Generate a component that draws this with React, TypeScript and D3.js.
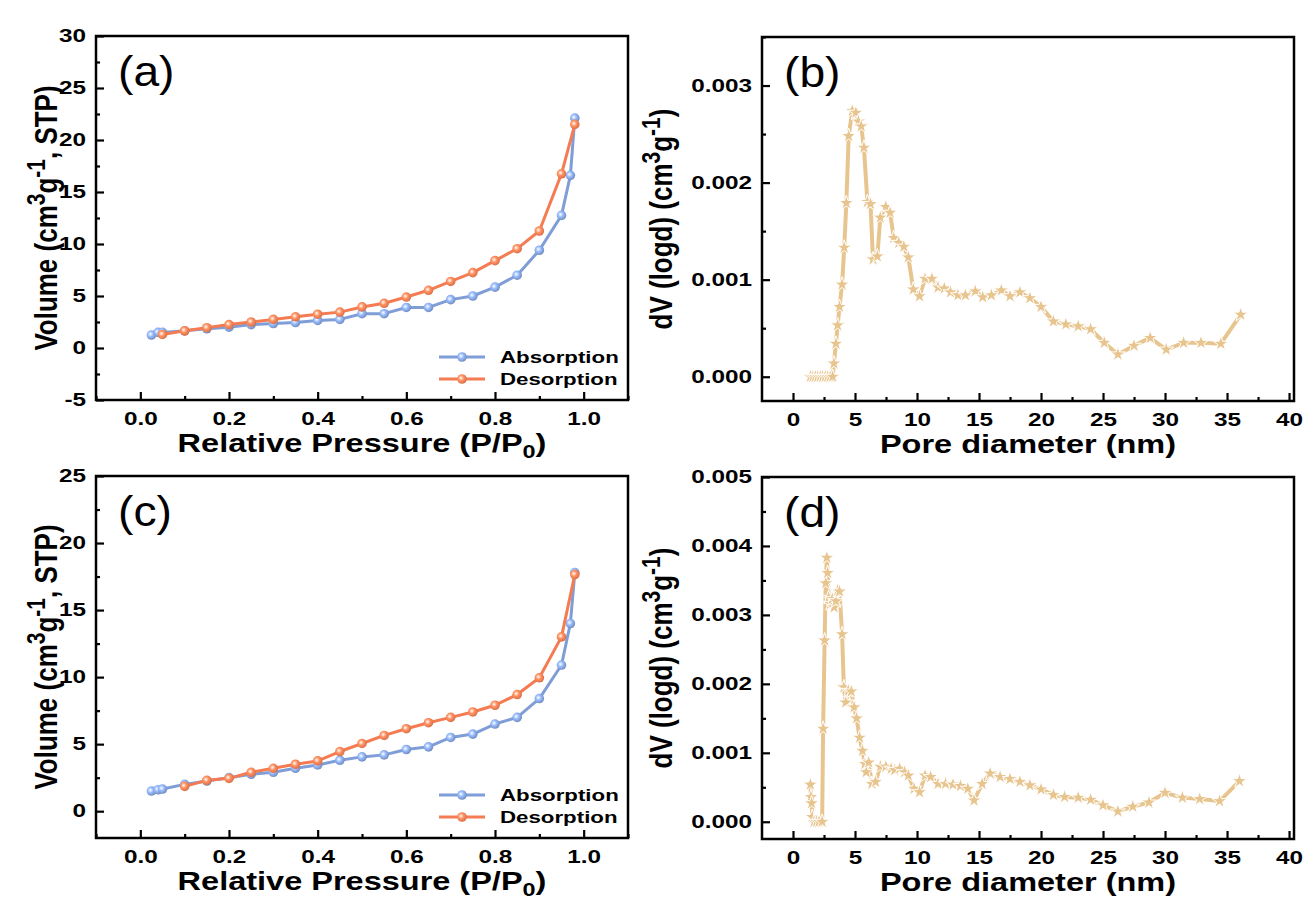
import React, { useEffect, useRef } from 'react';
import * as d3 from 'd3';

// ---- data ----
// (a) isotherm, sample 1
const pressureAdsA = [0.025, 0.04, 0.05, 0.1, 0.15, 0.2, 0.25, 0.3, 0.35, 0.4, 0.45, 0.5, 0.55, 0.6, 0.65, 0.7, 0.75, 0.8, 0.85, 0.9, 0.95, 0.97, 0.98];
const volumeAdsA = [1.25, 1.5, 1.5, 1.65, 1.85, 2.0, 2.25, 2.35, 2.45, 2.65, 2.75, 3.3, 3.3, 3.9, 3.9, 4.65, 5.0, 5.85, 7.0, 9.4, 12.75, 16.6, 22.1];
const pressureDesA = [0.05, 0.1, 0.15, 0.2, 0.25, 0.3, 0.35, 0.4, 0.45, 0.5, 0.55, 0.6, 0.65, 0.7, 0.75, 0.8, 0.85, 0.9, 0.95, 0.98];
const volumeDesA = [1.3, 1.65, 1.95, 2.25, 2.5, 2.75, 3.0, 3.25, 3.45, 3.95, 4.3, 4.9, 5.55, 6.4, 7.25, 8.4, 9.55, 11.25, 16.75, 21.5];

// (c) isotherm, sample 2
const pressureAdsC = [0.025, 0.04, 0.05, 0.1, 0.15, 0.2, 0.25, 0.3, 0.35, 0.4, 0.45, 0.5, 0.55, 0.6, 0.65, 0.7, 0.75, 0.8, 0.85, 0.9, 0.95, 0.97, 0.98];
const volumeAdsC = [1.5, 1.6, 1.65, 2.0, 2.25, 2.5, 2.75, 2.9, 3.2, 3.45, 3.8, 4.05, 4.2, 4.6, 4.8, 5.5, 5.75, 6.5, 7.0, 8.4, 10.9, 14.0, 17.8];
const pressureDesC = [0.1, 0.15, 0.2, 0.25, 0.3, 0.35, 0.4, 0.45, 0.5, 0.55, 0.6, 0.65, 0.7, 0.75, 0.8, 0.85, 0.9, 0.95, 0.98];
const volumeDesC = [1.85, 2.3, 2.45, 2.9, 3.2, 3.5, 3.75, 4.45, 5.05, 5.65, 6.15, 6.6, 7.0, 7.4, 7.9, 8.7, 9.95, 13.0, 17.65];

// (b) pore size distribution, sample 1
const poreB = [1.4, 1.6, 1.8, 2.0, 2.2, 2.4, 2.6, 2.8, 3.0, 3.2, 3.3, 3.46, 3.6, 3.75, 3.96, 4.13, 4.3, 4.49, 4.78, 5.07, 5.28, 5.5, 5.72, 6.0, 6.25, 6.45, 6.8, 7.04, 7.48, 7.83, 8.12, 8.53, 8.94, 9.3, 9.7, 10.2, 10.65, 11.2, 11.7, 12.2, 12.7, 13.3, 13.9, 14.7, 15.3, 16.0, 16.8, 17.5, 18.3, 19.1, 20.0, 21.0, 22.0, 23.0, 24.0, 25.1, 26.2, 27.5, 28.8, 30.1, 31.5, 32.9, 34.5, 36.1];
const dvB = [0, 0, 0, 0, 0, 0, 0, 0, 0, 0, 0.000137, 0.00034, 0.00053, 0.00072, 0.00095, 0.00133, 0.00179, 0.00248, 0.00274, 0.00272, 0.00263, 0.00258, 0.00236, 0.0018, 0.00178, 0.00121, 0.00124, 0.00164, 0.00175, 0.00169, 0.00143, 0.00138, 0.00134, 0.00123, 0.0009, 0.00083, 0.00101, 0.00101, 0.00092, 0.00091, 0.00087, 0.00084, 0.00084, 0.00088, 0.00082, 0.00084, 0.00089, 0.00083, 0.00087, 0.00081, 0.00072, 0.00057, 0.00054, 0.00052, 0.00049, 0.00035, 0.00023, 0.00032, 0.0004, 0.00028, 0.00035, 0.00035, 0.00034, 0.00064];

// (d) pore size distribution, sample 2
const poreD = [1.4, 1.45, 1.5, 1.55, 1.7, 1.9, 2.1, 2.35, 2.43, 2.55, 2.64, 2.73, 2.79, 2.87, 3.02, 3.17, 3.31, 3.46, 3.6, 3.75, 3.96, 4.1, 4.25, 4.46, 4.7, 4.93, 5.13, 5.37, 5.6, 5.8, 5.9, 6.1, 6.36, 6.66, 7.04, 7.48, 7.92, 8.2, 8.6, 9.0, 9.3, 9.77, 10.2, 10.65, 11.1, 11.7, 12.3, 12.9, 13.5, 14.1, 14.6, 15.25, 15.9, 16.7, 17.5, 18.3, 19.1, 20.0, 21.0, 21.9, 23.0, 24.0, 25.0, 26.2, 27.4, 28.7, 30.0, 31.4, 32.8, 34.4, 36.0];
const dvD = [0.00054, 0.00036, 0.00027, 0.00007, 0, 0, 0, 0, 0.00135, 0.00263, 0.00346, 0.00383, 0.00361, 0.00325, 0.00316, 0.00323, 0.00311, 0.0032, 0.00335, 0.00334, 0.00272, 0.00195, 0.00173, 0.0019, 0.00189, 0.00166, 0.0015, 0.00122, 0.00103, 0.00084, 0.00072, 0.00086, 0.00055, 0.00058, 0.0008, 0.0008, 0.00077, 0.00075, 0.00077, 0.00072, 0.00067, 0.00048, 0.00043, 0.00067, 0.00065, 0.00055, 0.00055, 0.00054, 0.00052, 0.00048, 0.00031, 0.00055, 0.0007, 0.00065, 0.00062, 0.00058, 0.00053, 0.00047, 0.00039, 0.00036, 0.00035, 0.00032, 0.00024, 0.00015, 0.00022, 0.00028, 0.00042, 0.00035, 0.00033, 0.0003, 0.00059];

// ticks
const pressureTicks = [0, 0.2, 0.4, 0.6, 0.8, 1.0];
const pressureMinor = [-0.1, 0.1, 0.3, 0.5, 0.7, 0.9, 1.1];
const poreTicks = [0, 5, 10, 15, 20, 25, 30, 35, 40];
const poreMinor = [2.5, 7.5, 12.5, 17.5, 22.5, 27.5, 32.5, 37.5];
const volumeTicksA = [-5, 0, 5, 10, 15, 20, 25, 30];
const volumeMinorA = [-2.5, 2.5, 7.5, 12.5, 17.5, 22.5, 27.5];
const volumeTicksC = [0, 5, 10, 15, 20, 25];
const volumeMinorC = [2.5, 7.5, 12.5, 17.5, 22.5];
const dvTicksB = [0, 0.001, 0.002, 0.003];
const dvMinorB = [0.0005, 0.0015, 0.0025, 0.0035];
const dvTicksD = [0, 0.001, 0.002, 0.003, 0.004, 0.005];
const dvMinorD = [0.0005, 0.0015, 0.0025, 0.0035, 0.0045];

const legendNames = ['Absorption', 'Desorption'];

const FONT = '"Liberation Sans", Arial, Helvetica, sans-serif';
const SX = 1.35; // text in the original is drawn horizontally stretched
const BLUE = '#7f9dd6';
const ORANGE = '#f47b52';
const TAN = '#e8c58f';

const toPoints = (xs, ys) => xs.map((v, i) => [v, ys[i]]);

function drawPanel(svg, p) {
  const { box } = p;
  const x = d3.scaleLinear().domain(p.xDomain).range([box.left, box.right]);
  const y = d3.scaleLinear().domain(p.yDomain).range([box.bottom, box.top]);
  const g = svg.append('g');

  const styleTicks = (a) => {
    a.select('.domain').remove();
    a.selectAll('line').attr('stroke', '#000').attr('stroke-width', 2.2);
  };

  // minor ticks
  g.append('g').attr('transform', 'translate(0,' + box.bottom + ')')
    .call(d3.axisBottom(x).tickValues(p.xMinor).tickSizeInner(-4).tickSizeOuter(0).tickFormat(() => ''))
    .call(styleTicks);
  g.append('g').attr('transform', 'translate(' + box.left + ',0)')
    .call(d3.axisLeft(y).tickValues(p.yMinor).tickSizeInner(-4).tickSizeOuter(0).tickFormat(() => ''))
    .call(styleTicks);

  // major ticks + labels
  g.append('g').attr('transform', 'translate(0,' + box.bottom + ')')
    .call(d3.axisBottom(x).tickValues(p.xTicks).tickSizeInner(-8).tickSizeOuter(0).tickPadding(12).tickFormat(p.xFormat))
    .call(styleTicks)
    .call(a => a.selectAll('text')
      .attr('font-family', FONT).attr('font-size', 18).attr('font-weight', 'bold').attr('fill', '#000')
      .attr('transform', 'scale(' + SX + ',1)'));
  g.append('g').attr('transform', 'translate(' + box.left + ',0)')
    .call(d3.axisLeft(y).tickValues(p.yTicks).tickSizeInner(-8).tickSizeOuter(0).tickPadding(10).tickFormat(p.yFormat))
    .call(styleTicks)
    .call(a => a.selectAll('text')
      .attr('x', -10 / SX)
      .attr('font-family', FONT).attr('font-size', 18).attr('font-weight', 'bold').attr('fill', '#000')
      .attr('transform', 'scale(' + SX + ',1)'));

  // series
  const line = d3.line().x(d => x(d[0])).y(d => y(d[1]));
  p.series.forEach(s => {
    const pts = toPoints(s.xs, s.ys);
    g.append('path').datum(pts)
      .attr('d', line)
      .attr('fill', 'none')
      .attr('stroke', s.color)
      .attr('stroke-width', s.kind === 'star' ? 4 : 3)
      .attr('stroke-linejoin', 'round');
    if (s.kind === 'star') {
      g.selectAll(null).data(pts).enter().append('path')
        .attr('d', d3.symbol(d3.symbolStar, 70))
        .attr('transform', d => 'translate(' + x(d[0]) + ',' + y(d[1]) + ')')
        .attr('fill', s.color)
        .attr('stroke', '#fff')
        .attr('stroke-width', 1);
    } else {
      g.selectAll(null).data(pts).enter().append('circle')
        .attr('cx', d => x(d[0]))
        .attr('cy', d => y(d[1]))
        .attr('r', 4.8)
        .attr('fill', 'url(#' + s.grad + ')');
    }
  });

  // frame
  g.append('rect')
    .attr('x', box.left).attr('y', box.top)
    .attr('width', box.right - box.left).attr('height', box.bottom - box.top)
    .attr('fill', 'none').attr('stroke', '#000').attr('stroke-width', 2.5);

  // legend
  if (p.legend) {
    p.series.forEach((s, i) => {
      const ly = box.bottom - 43 + i * 22;
      g.append('line')
        .attr('x1', box.right - 189).attr('x2', box.right - 143)
        .attr('y1', ly).attr('y2', ly)
        .attr('stroke', s.color).attr('stroke-width', 3);
      g.append('circle')
        .attr('cx', box.right - 166).attr('cy', ly).attr('r', 4.8)
        .attr('fill', 'url(#' + s.grad + ')');
      g.append('text')
        .attr('transform', 'translate(' + (box.right - 128) + ',' + (ly + 6) + ') scale(' + SX + ',1)')
        .attr('font-family', FONT).attr('font-size', 16.5).attr('font-weight', 'bold')
        .text(legendNames[i]);
    });
  }

  // panel label
  g.append('text')
    .attr('transform', 'translate(' + (box.left + 22) + ',' + (box.top + 50) + ') scale(1.1,1)')
    .attr('font-family', FONT).attr('font-size', 42)
    .text(p.label);

  // x title
  const xt = g.append('text')
    .attr('transform', 'translate(' + ((box.left + box.right) / 2) + ',' + (box.bottom + 52) + ') scale(1.3,1)')
    .attr('text-anchor', 'middle')
    .attr('font-family', FONT).attr('font-size', 25).attr('font-weight', 'bold');
  p.xTitle.forEach(part => {
    xt.append('tspan').attr('dy', part.dy || 0).attr('font-size', part.size || null).text(part.t);
  });

  // y title
  const yt = g.append('text')
    .attr('transform', 'translate(' + (box.left - p.yTitleOffset) + ',' + ((box.top + box.bottom) / 2) + ') scale(1.2,1) rotate(-90)')
    .attr('text-anchor', 'middle')
    .attr('font-family', FONT).attr('font-size', 26).attr('font-weight', 'bold');
  p.yTitle.forEach(part => {
    yt.append('tspan').attr('dy', part.dy || 0).attr('font-size', part.size || null).text(part.t);
  });
}

const volumeTitle = [
  { t: 'Volume (cm' }, { t: '3', dy: -10, size: 21 }, { t: 'g', dy: 10 },
  { t: '-1', dy: -10, size: 21 }, { t: ', STP)', dy: 10 }
];
const dvTitle = [
  { t: 'dV (logd) (cm' }, { t: '3', dy: -10, size: 21 }, { t: 'g', dy: 10 },
  { t: '-1', dy: -10, size: 21 }, { t: ')', dy: 10 }
];
const pressureTitle = [
  { t: 'Relative Pressure (P/P' }, { t: '0', dy: 6, size: 18 }, { t: ')', dy: -6 }
];
const poreTitle = [{ t: 'Pore diameter (nm)' }];

export default function App() {
  const ref = useRef(null);

  useEffect(() => {
    const svg = d3.select(ref.current);
    svg.selectAll('*').remove();

    const defs = svg.append('defs');
    [['gBlue', BLUE], ['gOrange', ORANGE]].forEach(([id, c]) => {
      const rg = defs.append('radialGradient').attr('id', id)
        .attr('cx', '40%').attr('cy', '40%').attr('r', '60%');
      rg.append('stop').attr('offset', '0%').attr('stop-color', '#ffffff');
      rg.append('stop').attr('offset', '45%').attr('stop-color', d3.color(c).brighter(0.5).formatHex());
      rg.append('stop').attr('offset', '100%').attr('stop-color', d3.color(c).darker(0.3).formatHex());
    });

    const fmtPlain = d => String(d);
    const fmt1 = d3.format('.1f');
    const fmt3 = d3.format('.3f');

    const isoSeries = (xa, ya, xd, yd) => [
      { xs: xa, ys: ya, color: BLUE, grad: 'gBlue', kind: 'circle' },
      { xs: xd, ys: yd, color: ORANGE, grad: 'gOrange', kind: 'circle' }
    ];

    drawPanel(svg, {
      box: { left: 96, right: 628, top: 36, bottom: 400 },
      xDomain: [-0.1, 1.1], yDomain: [-5, 30],
      xTicks: pressureTicks, xMinor: pressureMinor, xFormat: fmt1,
      yTicks: volumeTicksA, yMinor: volumeMinorA, yFormat: fmtPlain,
      series: isoSeries(pressureAdsA, volumeAdsA, pressureDesA, volumeDesA),
      legend: true, label: '(a)', xTitle: pressureTitle, yTitle: volumeTitle, yTitleOffset: 39
    });
    drawPanel(svg, {
      box: { left: 762, right: 1294, top: 37, bottom: 401 },
      xDomain: [-2.5, 40.4], yDomain: [-0.00025, 0.0035],
      xTicks: poreTicks, xMinor: poreMinor, xFormat: fmtPlain,
      yTicks: dvTicksB, yMinor: dvMinorB, yFormat: fmt3,
      series: [{ xs: poreB, ys: dvB, color: TAN, kind: 'star' }],
      legend: false, label: '(b)', xTitle: poreTitle, yTitle: dvTitle, yTitleOffset: 90
    });
    drawPanel(svg, {
      box: { left: 96, right: 628, top: 476, bottom: 838 },
      xDomain: [-0.1, 1.1], yDomain: [-2, 25],
      xTicks: pressureTicks, xMinor: pressureMinor, xFormat: fmt1,
      yTicks: volumeTicksC, yMinor: volumeMinorC, yFormat: fmtPlain,
      series: isoSeries(pressureAdsC, volumeAdsC, pressureDesC, volumeDesC),
      legend: true, label: '(c)', xTitle: pressureTitle, yTitle: volumeTitle, yTitleOffset: 39
    });
    drawPanel(svg, {
      box: { left: 762, right: 1294, top: 477, bottom: 839 },
      xDomain: [-2.5, 40.4], yDomain: [-0.00025, 0.005],
      xTicks: poreTicks, xMinor: poreMinor, xFormat: fmtPlain,
      yTicks: dvTicksD, yMinor: dvMinorD, yFormat: fmt3,
      series: [{ xs: poreD, ys: dvD, color: TAN, kind: 'star' }],
      legend: false, label: '(d)', xTitle: poreTitle, yTitle: dvTitle, yTitleOffset: 90
    });
  }, []);

  return (
    <svg ref={ref} width={1315} height={909}
      style={{ position: 'absolute', left: 0, top: 0, background: '#fff' }} />
  );
}
